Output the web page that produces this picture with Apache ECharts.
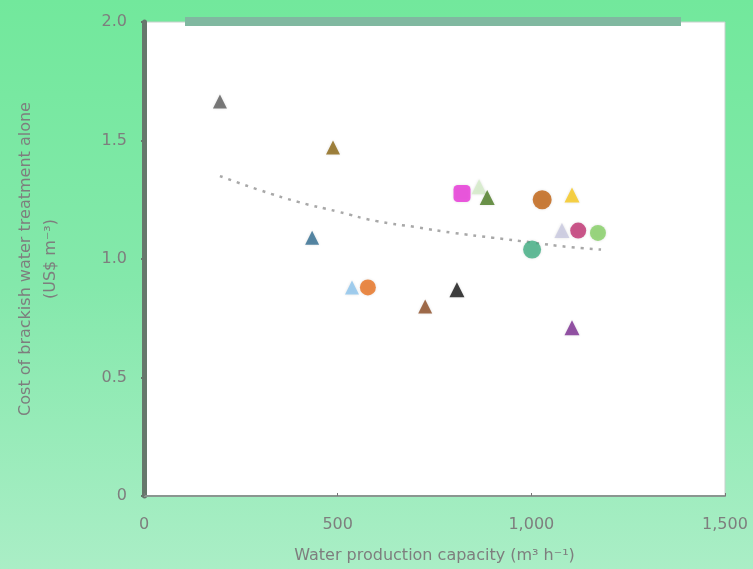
<!DOCTYPE html>
<html><head><meta charset="utf-8">
<script src="https://cdn.jsdelivr.net/npm/echarts@6/dist/echarts.min.js"></script>
<style>html,body{margin:0;padding:0;width:753px;height:569px;overflow:hidden;}
#c{width:753px;height:569px;}</style></head>
<body><div id="c"></div>
<script>
// Data
var capacity = [196, 488, 434, 537, 578, 726, 808, 821, 865, 886, 1028, 1105, 1002, 1079, 1121, 1172, 1105];
var cost     = [1.665, 1.47, 1.09, 0.88, 0.88, 0.80, 0.87, 1.276, 1.305, 1.26, 1.25, 1.27, 1.04, 1.12, 1.12, 1.11, 0.71];
var trendX = [196, 300, 400, 500, 600, 700, 800, 900, 1000, 1100, 1180];
var trendY = [1.35, 1.29, 1.24, 1.20, 1.16, 1.135, 1.11, 1.09, 1.07, 1.05, 1.04];
var xTicks = ['0', '500', '1,000', '1,500'];
var yTicks = ['0', '0.5', '1.0', '1.5', '2.0'];

// Styles
var markStyles = [
  ['triangle', '#5a5a5a', 14], ['triangle', '#8a6410', 14], ['triangle', '#2e6a8e', 14],
  ['triangle', '#8cc4ee', 14], ['circle', '#e8701e', 16], ['triangle', '#8b4a22', 14],
  ['triangle', '#111111', 15], ['roundRect', '#e832d8', 17], ['triangle', '#d4ecc8', 15],
  ['triangle', '#4a7a20', 15], ['circle', '#c0600e', 19], ['triangle', '#f8c81a', 15],
  ['circle', '#3fae82', 18], ['triangle', '#c8c8e0', 15], ['circle', '#c03070', 16],
  ['circle', '#84d064', 16], ['triangle', '#7a2a90', 15]
];

var series = [{
  type: 'line', data: trendX.map(function (x, i) { return [x, trendY[i]]; }),
  smooth: true, symbol: 'none', z: 1,
  lineStyle: { type: [3, 6], color: '#a8a8a8', width: 2.5 }
}];
capacity.forEach(function (x, i) {
  var s = markStyles[i];
  series.push({
    type: 'scatter', data: [[x, cost[i]]], symbol: s[0], symbolSize: s[2], z: 3,
    itemStyle: { color: s[1], shadowBlur: 3, shadowColor: 'rgba(0,0,0,0.15)' }
  });
});

var txt = { color: '#7e7e7e', fontSize: 16, fontFamily: 'DejaVu Sans' };

var chart = echarts.init(document.getElementById('c'));
chart.setOption({
  animation: false,
  backgroundColor: new echarts.graphic.LinearGradient(0, 0, 0, 1, [
    { offset: 0, color: '#72e89c' }, { offset: 0.5, color: '#84e8ab' }, { offset: 1, color: '#aaeec6' }
  ]),
  grid: { left: 144, right: 28, top: 22, bottom: 69, show: true, backgroundColor: '#ffffff',
          borderColor: '#c8d0cc', borderWidth: 1 },
  graphic: [{ type: 'rect', shape: { x: 185, y: 17, width: 496, height: 9 },
              style: { fill: '#80b8a0' }, z: 10 }],
  xAxis: {
    type: 'value', min: 0, max: 1500, interval: 500,
    name: 'Water production capacity (m\u00b3 h\u207b\u00b9)', nameLocation: 'middle', nameGap: 52,
    nameTextStyle: txt,
    axisLine: { lineStyle: { color: '#8a9690', width: 2 } },
    axisTick: { show: true, length: 3, inside: true, lineStyle: { color: '#777' } },
    splitLine: { show: false },
    axisLabel: Object.assign({}, txt, { margin: 21,
      formatter: function (v) { return xTicks[v / 500]; } })
  },
  yAxis: {
    type: 'value', min: 0, max: 2, interval: 0.5,
    name: 'Cost of brackish water treatment alone\n(US$ m\u207b\u00b3)', nameLocation: 'middle', nameGap: 81,
    nameTextStyle: Object.assign({}, txt, { lineHeight: 25 }),
    axisLine: { lineStyle: { color: '#66786c', width: 5 } },
    axisTick: { show: true, length: 3, lineStyle: { color: '#66786c', width: 2 } },
    splitLine: { show: false },
    axisLabel: Object.assign({}, txt, { margin: 17,
      formatter: function (v) { return yTicks[Math.round(v / 0.5)]; } })
  },
  series: series
});
</script></body></html>
